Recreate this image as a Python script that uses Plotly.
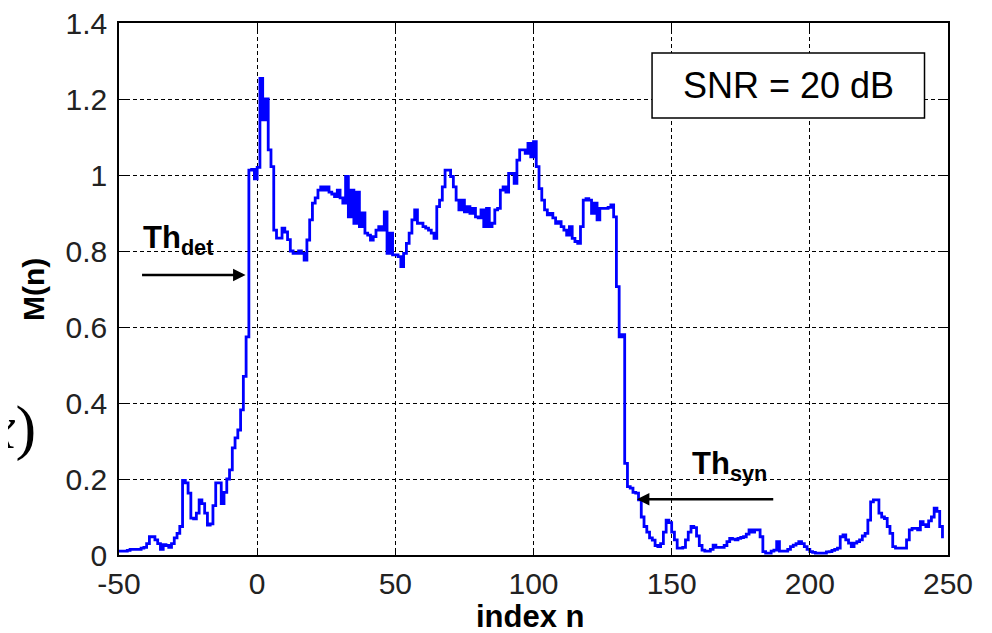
import plotly.graph_objects as go

# ---- data ----
n_start = -50
M_values = [
    0.01, 0.01, 0.01, 0.012, 0.015, 0.015, 0.015, 0.015, 0.018, 0.02,      # -50..-41
    0.03, 0.048, 0.048, 0.04, 0.03, 0.015, 0.027, 0.025, 0.02, 0.03,       # -40..-31
    0.045, 0.057, 0.075, 0.196, 0.19, 0.163, 0.097, 0.095, 0.11, 0.145,    # -30..-21
    0.135, 0.11, 0.079, 0.082, 0.13, 0.19, 0.19, 0.135, 0.165, 0.2,        # -20..-11
    0.224, 0.282, 0.308, 0.329, 0.382, 0.47, 0.574, 1.013, 1.015, 0.99,    # -10..-1
    1.02, 1.254, 1.145, 1.20, 1.066, 1.022, 0.855, 0.834, 0.834, 0.86,     # 0..9
    0.85, 0.83, 0.80, 0.794, 0.794, 0.80, 0.794, 0.776, 0.829, 0.882,      # 10..19
    0.926, 0.94, 0.96, 0.969, 0.96, 0.969, 0.955, 0.95, 0.943, 0.96,       # 20..29
    0.94, 0.926, 0.996, 0.89, 0.96, 0.873, 0.955, 0.864, 0.90, 0.847,      # 30..39
    0.842, 0.829, 0.838, 0.855, 0.864, 0.855, 0.903, 0.794, 0.847, 0.79,   # 40..49
    0.79, 0.785, 0.759, 0.794, 0.82, 0.847, 0.882, 0.908, 0.873, 0.873,    # 50..59
    0.864, 0.86, 0.855, 0.847, 0.833, 0.917, 0.934, 0.969, 1.013, 1.013,   # 60..69
    0.996, 0.969, 0.934, 0.908, 0.934, 0.903, 0.917, 0.899, 0.912, 0.89,   # 70..79
    0.887, 0.908, 0.864, 0.912, 0.864, 0.873, 0.908, 0.912, 0.96, 0.969,   # 80..89
    0.955, 1.004, 1.004, 0.978, 1.039, 1.066, 1.066, 1.057, 1.083, 1.048,  # 90..99
    1.088, 1.022, 0.964, 0.934, 0.908, 0.895, 0.899, 0.887, 0.873, 0.877,  # 100..109
    0.864, 0.855, 0.842, 0.864, 0.833, 0.825, 0.82, 0.864, 0.934, 0.938,   # 110..119
    0.934, 0.899, 0.926, 0.882, 0.912, 0.912, 0.912, 0.915, 0.921, 0.89,   # 120..129
    0.706, 0.574, 0.58, 0.241, 0.18, 0.176, 0.165, 0.163, 0.145, 0.1,      # 130..139
    0.075, 0.06, 0.045, 0.039, 0.025, 0.022, 0.03, 0.06, 0.092, 0.085,     # 140..149
    0.06, 0.04, 0.018, 0.018, 0.02, 0.04, 0.06, 0.075, 0.072, 0.05,        # 150..159
    0.025, 0.013, 0.01, 0.01, 0.015, 0.026, 0.02, 0.02, 0.02, 0.025,       # 160..169
    0.035, 0.044, 0.042, 0.04, 0.044, 0.046, 0.048, 0.055, 0.066, 0.06,    # 170..179
    0.066, 0.066, 0.048, 0.009, 0.005, 0.005, 0.01, 0.013, 0.035, 0.01,    # 180..189
    0.01, 0.01, 0.015, 0.022, 0.026, 0.03, 0.035, 0.03, 0.022, 0.015,      # 190..199
    0.009, 0.007, 0.005, 0.005, 0.005, 0.005, 0.008, 0.009, 0.012, 0.015,  # 200..209
    0.018, 0.048, 0.053, 0.04, 0.031, 0.022, 0.031, 0.035, 0.04, 0.05,     # 210..219
    0.057, 0.092, 0.14, 0.145, 0.145, 0.11, 0.1, 0.096, 0.075, 0.057,      # 220..229
    0.022, 0.018, 0.018, 0.018, 0.018, 0.04, 0.066, 0.07, 0.07, 0.066,     # 230..239
    0.088, 0.08, 0.075, 0.09, 0.1, 0.123, 0.115, 0.075, 0.044,             # 240..248
]
n_index = list(range(n_start, n_start + len(M_values)))

x_tickvals = [-50, 0, 50, 100, 150, 200, 250]
x_ticktext = ["-50", "0", "50", "100", "150", "200", "250"]
y_tickvals = [0, 0.2, 0.4, 0.6, 0.8, 1.0, 1.2, 1.4]
y_ticktext = ["0", "0.2", "0.4", "0.6", "0.8", "1", "1.2", "1.4"]

th_det_y = 0.737
th_det_from, th_det_to = -42.2, -4.2
th_syn_y = 0.147
th_syn_from, th_syn_to = 187.3, 137.4

FONT = "Liberation Sans, Arial, Helvetica, sans-serif"

fig = go.Figure()
fig.add_trace(go.Scatter(
    x=n_index, y=M_values, mode="lines",
    line=dict(color="#0000FF", width=2.8, shape="hv"),
    showlegend=False, hoverinfo="skip",
))

axis_common = dict(
    showline=True, linecolor="black", linewidth=1.5, mirror="allticks",
    ticks="inside", ticklen=7, tickwidth=1, tickcolor="black",
    showgrid=True, gridcolor="black", gridwidth=1, griddash="4px,3px",
    zeroline=False, automargin=False, ticklabeloverflow="allow",
    tickfont=dict(family=FONT, size=30, color="#222222"),
)

fig.update_xaxes(range=[-50, 250], tickvals=x_tickvals, ticktext=x_ticktext,
                 ticklabelstandoff=1, **axis_common)
fig.update_yaxes(range=[0, 1.4], tickvals=y_tickvals, ticktext=y_ticktext,
                 ticklabelstandoff=4, **axis_common)

annotations = [
    # axis titles
    dict(text="<b>index n</b>", xref="paper", yref="paper", x=0.4958, y=-0.116,
         xanchor="center", yanchor="middle", showarrow=False,
         font=dict(family=FONT, size=31, color="black")),
    dict(text="<b>M(n)</b>", xref="paper", yref="paper", x=-0.1037, y=0.498,
         xanchor="center", yanchor="middle", showarrow=False, textangle=-90,
         font=dict(family=FONT, size=30, color="black")),
    # leftover equation fragment
    dict(text="<i>x</i>)", xref="paper", yref="paper", x=-0.098, y=0.24,
         xanchor="right", yanchor="middle", showarrow=False,
         font=dict(family="Liberation Serif, Times New Roman, serif", size=62, color="black")),
    # SNR box
    dict(text="SNR = 20 dB", xref="x", yref="y", x=192.2, y=1.2355,
         xanchor="center", yanchor="middle", showarrow=False,
         font=dict(family=FONT, size=36, color="black")),
    # Th_det
    dict(text="<b>Th<sub>det</sub></b>", xref="x", yref="y", x=-42.0, y=0.83,
         xanchor="left", yanchor="middle", showarrow=False,
         font=dict(family=FONT, size=31, color="black")),
    dict(text="", xref="x", yref="y", axref="x", ayref="y",
         x=th_det_to, y=th_det_y, ax=th_det_from, ay=th_det_y,
         showarrow=True, arrowhead=2, arrowsize=1.0, arrowwidth=2.5, arrowcolor="black",
         standoff=0, startstandoff=0),
    # Th_syn
    dict(text="<b>Th<sub>syn</sub></b>", xref="x", yref="y", x=156.8, y=0.235,
         xanchor="left", yanchor="middle", showarrow=False,
         font=dict(family=FONT, size=31, color="black")),
    dict(text="", xref="x", yref="y", axref="x", ayref="y",
         x=th_syn_to, y=th_syn_y, ax=th_syn_from, ay=th_syn_y,
         showarrow=True, arrowhead=2, arrowsize=1.0, arrowwidth=2.5, arrowcolor="black",
         standoff=0, startstandoff=0),
]

shapes = [
    dict(type="rect", xref="x", yref="y", x0=142.9, x1=241.5, y0=1.15, y1=1.321,
         line=dict(color="black", width=1.5), fillcolor="white", layer="above"),
]

# the page body adds an 8px offset, so the figure is 8px smaller and margins shifted
fig.update_layout(
    width=984, height=625,
    margin=dict(l=111, r=44, t=15, b=78),
    paper_bgcolor="white", plot_bgcolor="white",
    annotations=annotations, shapes=shapes,
    font=dict(family=FONT),
)

fig.write_html("out.html")
